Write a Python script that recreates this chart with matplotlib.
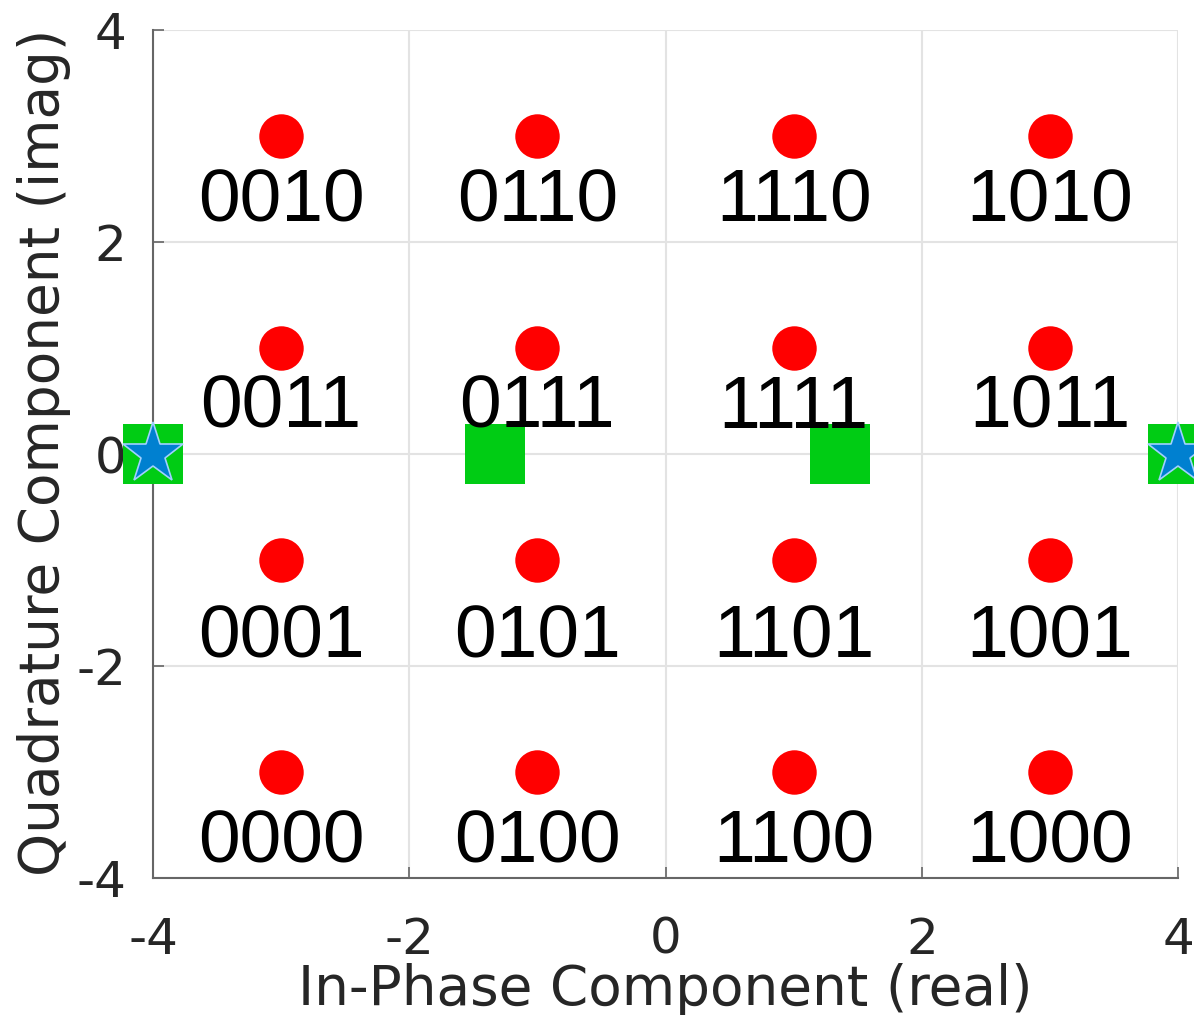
import matplotlib
matplotlib.use("Agg")
import matplotlib.pyplot as plt

plt.rcParams['axes.unicode_minus'] = False

# constellation points (16-QAM, gray coded labels)
const_re = [-3, -1, 1, 3]
const_im = [3, 1, -1, -3]
bit_labels = [
    ["0010", "0110", "1110", "1010"],
    ["0011", "0111", "1111", "1011"],
    ["0001", "0101", "1101", "1001"],
    ["0000", "0100", "1100", "1000"],
]
# baseline of the label text for each row
label_base = [2.19, 0.25, -1.92, -3.85]

# green squares and blue stars on the real axis
square_re = [-4, -1.33, 1.36, 4]
square_im = [0, 0, 0, 0]
star_re = [-4, 4]
star_im = [0, 0]

fig = plt.figure(figsize=(11.94, 10.15), dpi=100)
ax = fig.add_axes([153 / 1194, 1 - 878 / 1015, 1025 / 1194, 848 / 1015])

for row, y in enumerate(const_im):
    xs = const_re
    ax.plot(xs, [y] * len(xs), 'o', color='#ff0000', markersize=32,
            markeredgewidth=0, zorder=3, clip_on=False)
    for col, x in enumerate(xs):
        ax.text(x, label_base[row], bit_labels[row][col], ha='center',
                va='baseline', fontsize=54, family='Liberation Sans',
                color='black', zorder=6)

ax.plot(square_re, square_im, 's', color='#00cc14', markersize=43,
        markeredgewidth=0, zorder=4, clip_on=False)
ax.plot(star_re, star_im, '*', color='#0080d0', markersize=46,
        markeredgecolor='#a0d0ff', markeredgewidth=1.2, zorder=5, clip_on=False)

ax.set_xlim(-4, 4)
ax.set_ylim(-4, 4)
ax.set_xticks([-4, -2, 0, 2, 4])
ax.set_yticks([-4, -2, 0, 2, 4])
ax.grid(True, color='#e3e3e3', linewidth=1.5)
ax.set_axisbelow(True)
for s in ['top', 'right']:
    ax.spines[s].set_visible(False)
for s in ['left', 'bottom']:
    ax.spines[s].set_color('#666666')
    ax.spines[s].set_linewidth(1.5)
ax.tick_params(direction='in', length=8, width=1.2, color='#666666',
               labelsize=36, labelcolor='#262626')
ax.tick_params(axis='x', pad=27)
ax.tick_params(axis='y', pad=19)
ax.set_xlabel("In-Phase Component (real)", fontsize=39.5, color='#262626')
ax.set_ylabel("Quadrature Component (imag)", fontsize=39.5, color='#262626')
ax.xaxis.set_label_coords(0.5, -0.100)
ax.yaxis.set_label_coords(-0.080, 0.502)

fig.savefig("out.png", dpi=100)
